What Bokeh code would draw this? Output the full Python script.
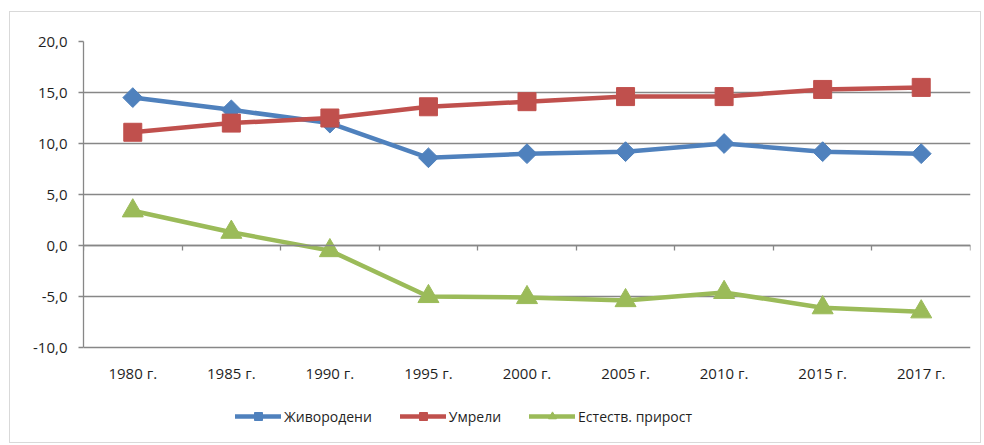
import numpy as np
from bokeh.plotting import figure
from bokeh.models import (Range1d, LinearAxis, FixedTicker, Grid, Legend, LegendItem,
                          ColumnDataSource)
from bokeh.embed import file_html
from bokeh.resources import INLINE

years = ["1980 г.", "1985 г.", "1990 г.", "1995 г.", "2000 г.", "2005 г.", "2010 г.", "2015 г.", "2017 г."]
births = [14.5, 13.3, 12.0, 8.6, 9.0, 9.2, 10.0, 9.2, 9.0]
deaths = [11.1, 12.0, 12.5, 13.6, 14.1, 14.6, 14.6, 15.3, 15.5]
natural = [3.4, 1.3, -0.5, -5.0, -5.1, -5.4, -4.6, -6.1, -6.5]
y_ticks = [-10, -5, 0, 5, 10, 15, 20]
y_labels = ["-10,0", "-5,0", "0,0", "5,0", "10,0", "15,0", "20,0"]
names = ["Живородени", "Умрели", "Естеств. прирост"]

FONT = "Open Sans"
GRID = "#878787"
TXT = "#1F1F1F"
BLUE, RED, GREEN = "#4F81BD", "#C0504D", "#9BBB59"

# layout: plot body 306 px tall for the -10..20 span, frame extended below to hold legend
H, TOP = 432, 29
FRAME_H = H - TOP
BODY_H = 306
y_lo, y_hi = min(y_ticks), max(y_ticks)
px_per_unit = BODY_H / (y_hi - y_lo)
y_start = y_lo - (FRAME_H - BODY_H) / px_per_unit

xc = [i + 0.5 for i in range(len(years))]
src = ColumnDataSource(dict(x=xc, b=births, d=deaths, n=natural))

p = figure(width=972, height=H, output_backend="svg", toolbar_location=None,
           x_range=Range1d(0, len(years)), y_range=Range1d(y_start, y_hi),
           x_axis_type=None, y_axis_type=None,
           min_border_left=73, min_border_right=12, min_border_top=TOP, min_border_bottom=0,
           margin=(11, 0, 0, 9),
           styles={"border": "1px solid #D9D9D9"})
p.outline_line_color = None
p.background_fill_color = "white"
p.border_fill_color = "white"

yaxis = LinearAxis(ticker=FixedTicker(ticks=y_ticks), bounds=(y_lo, y_hi),
                   major_label_overrides={t: l for t, l in zip(y_ticks, y_labels)})
yaxis.axis_line_color = GRID
yaxis.axis_line_width = 1.3
yaxis.major_tick_line_color = GRID
yaxis.major_tick_line_width = 1.3
yaxis.major_tick_out = 5
yaxis.major_tick_in = 0
yaxis.minor_tick_line_color = None
yaxis.major_label_standoff = 11
yaxis.major_label_text_font = FONT
yaxis.major_label_text_font_size = "15px"
yaxis.major_label_text_color = TXT
p.add_layout(yaxis, "left")

p.add_layout(Grid(dimension=1, ticker=yaxis.ticker, grid_line_color=GRID, grid_line_width=1.3))

# category labels: axis pinned at the bottom of the value range, labels pushed below it
xlab = LinearAxis(ticker=FixedTicker(ticks=xc), fixed_location=y_lo,
                  major_label_overrides={x: l for x, l in zip(xc, years)})
xlab.axis_line_color = None
xlab.major_tick_line_color = None
xlab.minor_tick_line_color = None
xlab.major_tick_out = 0
xlab.major_tick_in = 0
xlab.major_label_standoff = -35
xlab.major_label_text_font = FONT
xlab.major_label_text_font_size = "15px"
xlab.major_label_text_color = TXT
p.add_layout(xlab, "above")

# category axis crossing at zero, with ticks between categories
boundaries = list(range(len(years) + 1))
xzero = LinearAxis(ticker=FixedTicker(ticks=[], minor_ticks=boundaries), fixed_location=0)
xzero.axis_line_color = GRID
xzero.axis_line_width = 1.3
xzero.major_tick_line_color = None
xzero.minor_tick_line_color = GRID
xzero.minor_tick_line_width = 1.3
xzero.minor_tick_out = 0
xzero.minor_tick_in = 5
p.add_layout(xzero, "above")

lb = p.line("x", "b", source=src, color=BLUE, line_width=4.5, line_join="round", line_cap="round")
mb = p.scatter("x", "b", source=src, marker="square", angle=np.pi / 4, size=14,
               fill_color=BLUE, line_color=BLUE)
ld = p.line("x", "d", source=src, color=RED, line_width=4.5, line_join="round", line_cap="round")
md = p.scatter("x", "d", source=src, marker="square", size=18, fill_color=RED, line_color=RED)
ln = p.line("x", "n", source=src, color=GREEN, line_width=4.5, line_join="round", line_cap="round")
mn = p.scatter("x", "n", source=src, marker="triangle", size=21, fill_color=GREEN, line_color=GREEN)

legend = Legend(items=[LegendItem(label=names[0], renderers=[lb, mb]),
                       LegendItem(label=names[1], renderers=[ld, md]),
                       LegendItem(label=names[2], renderers=[ln, mn])],
                orientation="horizontal", location=(152, 18),
                glyph_width=46, glyph_height=20, label_standoff=3, spacing=28,
                padding=5, margin=0, border_line_color=None, background_fill_alpha=0,
                label_text_font=FONT, label_text_font_size="14px", label_text_color=TXT)
p.add_layout(legend, "center")

open("out.html", "w").write(file_html(p, INLINE))
